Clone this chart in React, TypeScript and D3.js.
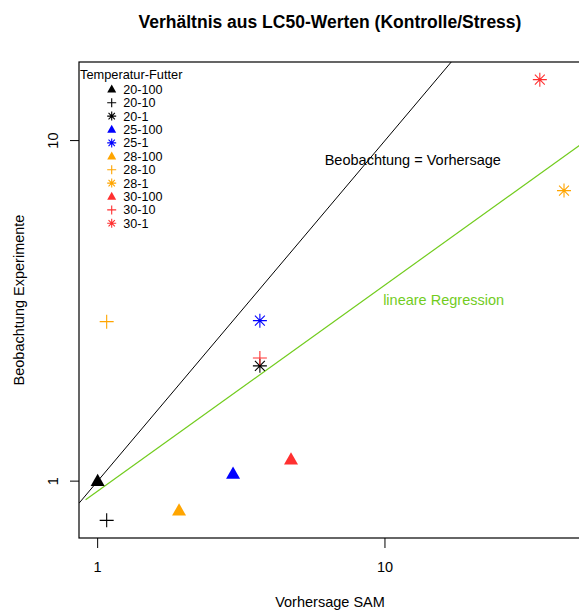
import React from 'react';
import * as d3 from 'd3';

// Treatment groups (temperature - food level) with their plotting style
const groups = ['20-100', '20-10', '20-1', '25-100', '25-1', '28-100', '28-10', '28-1', '30-100', '30-10', '30-1'];
const groupColors = ['#000000', '#000000', '#000000', '#0000ff', '#0000ff', '#ffa500', '#ffa500', '#ffa500', '#ff3030', '#ff3030', '#ff3030'];
const groupShapes = ['triangle', 'cross', 'star', 'triangle', 'star', 'triangle', 'cross', 'star', 'triangle', 'cross', 'star'];

// LC50 ratios (control / stress): SAM prediction vs. experimental observation
const predictedSAM = [1, 1.075, 3.67, 2.96, 3.67, 1.92, 1.075, 42.0, 4.71, 3.67, 34.6];
const observedExp = [1, 0.767, 2.18, 1.05, 2.96, 0.819, 2.94, 7.13, 1.157, 2.3, 15.1];

const xTicks = [1, 10];
const yTicks = [1, 10];

// log10(obs) = intercept + slope * log10(pred)
const regIntercept = -0.029;
const regSlope = 0.605;
const regStartX = 0.908;

const W = 579;
const H = 610;
const plotLeft = 79;
const plotTop = 62;
const plotBottom = 538;
const xDecadePx = 287.3;

const FONT = '"Liberation Sans", Arial, Helvetica, sans-serif';
const green = '#72cc1e';
const labelSize = 14.5;

function logExtent(values: number[]): [number, number] {
  const lo = Math.log10(d3.min(values) as number);
  const hi = Math.log10(d3.max(values) as number);
  const pad = (hi - lo) * 0.04;
  return [Math.pow(10, lo - pad), Math.pow(10, hi + pad)];
}

function Marker({ shape, x, y, color, r }: { shape: string; x: number; y: number; color: string; r: number }) {
  if (shape === 'triangle') {
    const h = r * 1.75;
    const w = r * 2;
    const top = y - h * 0.6;
    const bot = y + h * 0.4;
    return <path d={`M${x},${top}L${x + w / 2},${bot}L${x - w / 2},${bot}Z`} fill={color} />;
  }
  if (shape === 'cross') {
    return (
      <path d={`M${x - r},${y}H${x + r}M${x},${y - r}V${y + r}`} stroke={color} strokeWidth={1.1} fill="none" />
    );
  }
  const d = r / Math.SQRT2;
  return (
    <path
      d={`M${x - r},${y}H${x + r}M${x},${y - r}V${y + r}M${x - d},${y - d}L${x + d},${y + d}M${x - d},${y + d}L${x + d},${y - d}`}
      stroke={color}
      strokeWidth={1.1}
      fill="none"
    />
  );
}

export default function App() {
  const xDom = logExtent(predictedSAM);
  const yDom = logExtent(observedExp);
  const plotRight = plotLeft + Math.log10(xDom[1] / xDom[0]) * xDecadePx;

  const x = d3.scaleLog().domain(xDom).range([plotLeft, plotRight]);
  const y = d3.scaleLog().domain(yDom).range([plotBottom, plotTop]);

  // 1:1 line across the whole x range
  const identity = d3.line<number>()(
    [xDom[0], xDom[1]].map((v) => [x(v), y(v)] as [number, number])
  ) as string;

  const regY = (v: number) => Math.pow(10, regIntercept + regSlope * Math.log10(v));
  const regression = d3.line<number>()(
    [regStartX, xDom[1]].map((v) => [x(v), y(regY(v))] as [number, number])
  ) as string;

  const legendX = 80;
  const legendSymX = 111.7;
  const legendTextX = 123.3;
  const legendRow0 = 89.3;
  const legendStep = 13.4;

  return (
    <div style={{ position: 'absolute', left: 0, top: 0 }}>
      <svg width={W} height={H} style={{ display: 'block', background: '#fff' }} fontFamily={FONT}>
        <defs>
          <clipPath id="plotArea">
            <rect x={plotLeft} y={plotTop} width={plotRight - plotLeft} height={plotBottom - plotTop} />
          </clipPath>
        </defs>

        <text x={330} y={28} textAnchor="middle" fontSize={17.5} fontWeight="bold" fill="#000">
          Verhältnis aus LC50-Werten (Kontrolle/Stress)
        </text>

        <g clipPath="url(#plotArea)">
          <path d={identity} stroke="#000" strokeWidth={1} fill="none" />
          <path d={regression} stroke={green} strokeWidth={1.2} fill="none" />
          {groups.map((g, i) => (
            <Marker
              key={g}
              shape={groupShapes[i]}
              x={x(predictedSAM[i])}
              y={y(observedExp[i])}
              color={groupColors[i]}
              r={7}
            />
          ))}
        </g>

        <rect
          x={plotLeft}
          y={plotTop}
          width={plotRight - plotLeft}
          height={plotBottom - plotTop}
          fill="none"
          stroke="#000"
          strokeWidth={1.2}
        />

        {xTicks.map((t) => (
          <g key={`x${t}`}>
            <line x1={x(t)} x2={x(t)} y1={plotBottom} y2={plotBottom + 10} stroke="#000" />
            <text x={x(t)} y={572} textAnchor="middle" fontSize={labelSize} fill="#000">
              {t}
            </text>
          </g>
        ))}
        {yTicks.map((t) => (
          <g key={`y${t}`}>
            <line x1={plotLeft - 9} x2={plotLeft} y1={y(t)} y2={y(t)} stroke="#000" />
            <text
              transform={`translate(58,${y(t)}) rotate(-90)`}
              textAnchor="middle"
              fontSize={labelSize}
              fill="#000"
            >
              {t}
            </text>
          </g>
        ))}

        <text x={330} y={607} textAnchor="middle" fontSize={labelSize} fill="#000">
          Vorhersage SAM
        </text>
        <text transform="translate(24,300) rotate(-90)" textAnchor="middle" fontSize={labelSize} fill="#000">
          Beobachtung Experimente
        </text>

        <text x={x(12.5)} y={y(8.8)} dy="0.35em" textAnchor="middle" fontSize={labelSize} fill="#000">
          Beobachtung = Vorhersage
        </text>
        <text x={x(16)} y={y(3.4)} dy="0.35em" textAnchor="middle" fontSize={labelSize} fill={green}>
          lineare Regression
        </text>

        <text x={legendX} y={78.5} fontSize={12.8} fill="#000">
          Temperatur-Futter
        </text>
        {groups.map((g, i) => {
          const cy = legendRow0 + i * legendStep;
          return (
            <g key={`leg${g}`}>
              <Marker shape={groupShapes[i]} x={legendSymX} y={cy} color={groupColors[i]} r={4.5} />
              <text x={legendTextX} y={cy} dy="0.35em" fontSize={12.6} fill="#000">
                {g}
              </text>
            </g>
          );
        })}
      </svg>
    </div>
  );
}
